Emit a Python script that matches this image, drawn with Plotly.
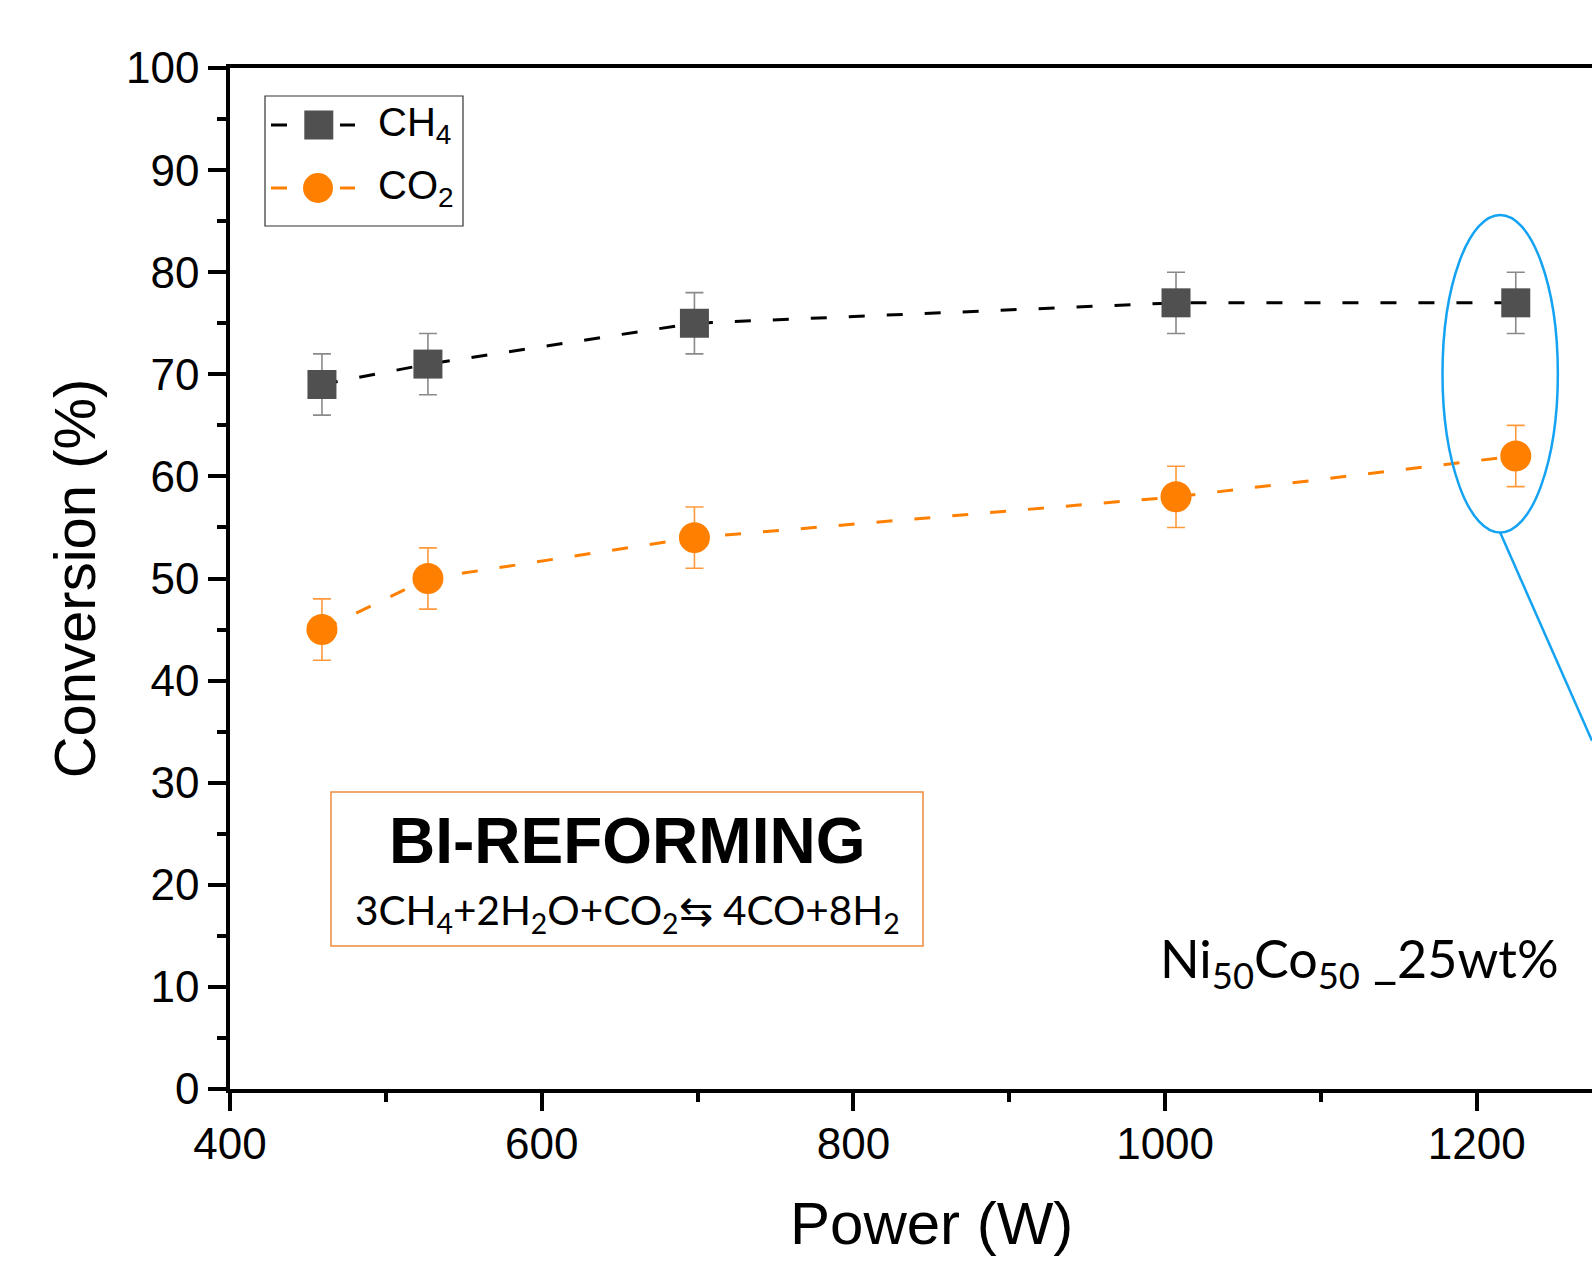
import plotly.graph_objects as go

# ---- data ----
power = [459, 527, 698, 1007, 1225]
ch4_conv = [69, 71, 75, 77, 77]
ch4_err = [3, 3, 3, 3, 3]
co2_conv = [45, 50, 54, 58, 62]
co2_err = [3, 3, 3, 3, 3]
x_ticks = [400, 600, 800, 1000, 1200]
y_ticks = [0, 10, 20, 30, 40, 50, 60, 70, 80, 90, 100]

W, H = 1592, 1262
ML, MT, MB, MR = 230, 68, 173, 0
PW, PH = W - ML - MR, H - MT - MB
X_MAX = 400 + PW / 1.5585


def px(x):
    return (x - ML) / PW


def py(y):
    return (H - MB - y) / PH


ARIAL = "Arial, Liberation Sans, sans-serif"
CAL = "Lato, Carlito, sans-serif"
SQ = "#505050"
OR = "#FF8000"

fig = go.Figure()
fig.add_trace(go.Scatter(
    x=power, y=ch4_conv, mode="lines+markers", name="CH<sub>4</sub>",
    line=dict(color="black", width=3, dash="16px,22px"),
    marker=dict(symbol="square", size=29, color=SQ, line=dict(width=0)),
    error_y=dict(type="data", array=ch4_err, color="#8a8a8a", thickness=1.6, width=9),
    showlegend=False,
))
fig.add_trace(go.Scatter(
    x=power, y=co2_conv, mode="lines+markers", name="CO<sub>2</sub>",
    line=dict(color=OR, width=3, dash="16px,22px"),
    marker=dict(symbol="circle", size=31, color=OR, line=dict(width=0)),
    error_y=dict(type="data", array=co2_err, color="#FF9A3C", thickness=1.6, width=9),
    showlegend=False,
))

shapes = []
# legend box
shapes.append(dict(type="rect", xref="paper", yref="paper", x0=px(265), x1=px(463),
                   y0=py(226), y1=py(96), line=dict(color="#333333", width=1.2),
                   fillcolor="white", layer="above"))
for yc, col in [(125, "black"), (188, OR)]:
    for a, b in [(271, 287), (340, 355)]:
        shapes.append(dict(type="line", xref="paper", yref="paper", x0=px(a), x1=px(b),
                           y0=py(yc), y1=py(yc), line=dict(color=col, width=3)))
shapes.append(dict(type="rect", xref="paper", yref="paper", x0=px(304.3), x1=px(333.3),
                   y0=py(139.5), y1=py(110.5), fillcolor=SQ, line=dict(width=0)))
shapes.append(dict(type="circle", xref="paper", yref="paper", x0=px(303), x1=px(333),
                   y0=py(203), y1=py(173), fillcolor=OR, line=dict(width=0)))
# reaction box
shapes.append(dict(type="rect", xref="paper", yref="paper", x0=px(331), x1=px(923),
                   y0=py(946), y1=py(792), line=dict(color="#EE8A3C", width=1.5)))
# highlight ellipse and pointer line
BLUE = "#14A3F2"
shapes.append(dict(type="circle", xref="x", yref="y", x0=1178, x1=1252, y0=54.5, y1=85.6,
                   line=dict(color=BLUE, width=2.5)))
shapes.append(dict(type="line", xref="x", yref="y", x0=1215, y0=54.5, x1=X_MAX, y1=34.1,
                   line=dict(color=BLUE, width=2.5)))

annotations = [
    dict(text="CH<sub>4</sub>", x=px(376), y=py(125), xref="paper", yref="paper",
         xanchor="left", yanchor="middle", showarrow=False, font=dict(family=ARIAL, size=40, color="black")),
    dict(text="CO<sub>2</sub>", x=px(376), y=py(188), xref="paper", yref="paper",
         xanchor="left", yanchor="middle", showarrow=False, font=dict(family=ARIAL, size=40, color="black")),
    dict(text="<b>BI-REFORMING</b>", x=px(627), y=py(841), xref="paper", yref="paper",
         xanchor="center", yanchor="middle", showarrow=False, font=dict(family=ARIAL, size=64, color="black")),
    dict(text="3CH<sub>4</sub>+2H<sub>2</sub>O+CO<sub>2</sub>⇆ 4CO+8H<sub>2</sub>", x=px(627), y=py(912),
         xref="paper", yref="paper", xanchor="center", yanchor="middle", showarrow=False,
         font=dict(family=CAL, size=40.5, color="black")),
    dict(text="Ni<sub>50</sub>Co<sub>50</sub> _25wt%", x=px(1158), y=py(962), xref="paper", yref="paper",
         xanchor="left", yanchor="middle", showarrow=False, font=dict(family=CAL, size=52, color="black")),
    dict(text="Power (W)", x=px(931), y=py(1224), xref="paper", yref="paper",
         xanchor="center", yanchor="middle", showarrow=False, font=dict(family=ARIAL, size=60, color="black")),
]

axis_common = dict(
    showline=True, linecolor="black", linewidth=3.5, ticks="outside", ticklen=18,
    tickwidth=3.5, tickcolor="black", showgrid=False, zeroline=False, automargin=False,
    tickfont=dict(family=ARIAL, size=44, color="black"),
)

fig.update_layout(
    width=W, height=H, margin=dict(l=ML, r=MR, t=MT, b=MB),
    paper_bgcolor="white", plot_bgcolor="white",
    shapes=shapes, annotations=annotations,
    xaxis=dict(range=[400, X_MAX], tickvals=x_ticks, mirror=True, ticklabelstandoff=-5,
               minor=dict(dtick=100, tick0=400, ticks="outside", ticklen=9, tickwidth=3.5, tickcolor="black"),
               **axis_common),
    yaxis=dict(range=[0, 100], tickvals=y_ticks,
               minor=dict(dtick=5, tick0=0, ticks="outside", ticklen=9, tickwidth=3.5, tickcolor="black"),
               title=dict(text="Conversion (%)", font=dict(family=ARIAL, size=58, color="black"), standoff=13),
               **axis_common),
    showlegend=False,
)

fig.write_html("out.html", config={"displayModeBar": False},
               post_script="document.body.style.margin='0';document.body.style.overflow='hidden';")
